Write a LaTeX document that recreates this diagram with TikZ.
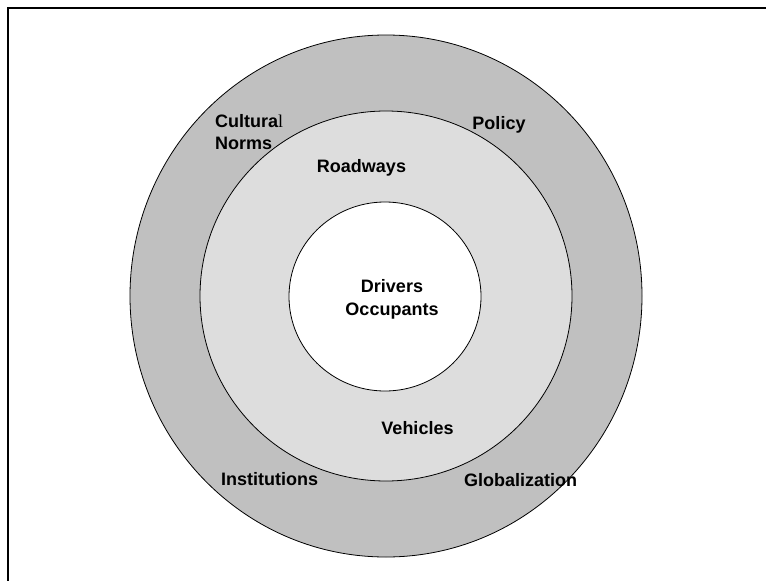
\documentclass[tikz,border=0pt]{standalone}
\usepackage{fontspec}
\setmainfont{Liberation Sans}
\newfontfamily\timesl{Liberation Serif}
\usetikzlibrary{positioning}

\definecolor{ringout}{HTML}{C0C0C0}
\definecolor{ringmid}{HTML}{DDDDDD}

\begin{document}
\begin{tikzpicture}[x=1pt, y=-1pt,
	ring/.style={draw=black, line width=0.8pt},
	lbl/.style={font=\bfseries\fontsize{18}{22}\selectfont, inner sep=0pt, anchor=base}]

	\useasboundingbox (0,0) rectangle (766,581);

	\coordinate (O) at (386,296);

	% frame (top and left edges)
	\draw[line width=2pt] (8,581) -- (8,8) -- (766,8);

	% outer ring
	\draw[ring, fill=ringout] (O) ellipse [x radius=256pt, y radius=261pt];

	% middle ring
	\draw[ring, fill=ringmid] (O) ellipse [x radius=186pt, y radius=185pt];

	% inner disc
	\draw[ring, fill=white] (385,296.5) ellipse [x radius=96pt, y radius=94.5pt];

	% outer labels
	\node[lbl, anchor=base west] (cultural) at (215,127) {Cultura{\timesl\mdseries l}};
	\node[lbl, anchor=base west] (norms) at (215,149) {Norms};
	\node[lbl] (policy) at (499,129) {Policy};
	\node[lbl] (institutions) at (269.5,485) {Institutions};
	\node[lbl] (globalization) at (520.5,486) {Globalization};

	% middle labels
	\node[lbl] (roadways) at (361.5,172) {Roadways};
	\node[lbl] (vehicles) at (417.5,434) {Vehicles};

	% inner labels
	\node[lbl] (drivers) at (392,292) {Drivers};
	\node[lbl] (occupants) at (392,315) {Occupants};

\end{tikzpicture}
\end{document}
